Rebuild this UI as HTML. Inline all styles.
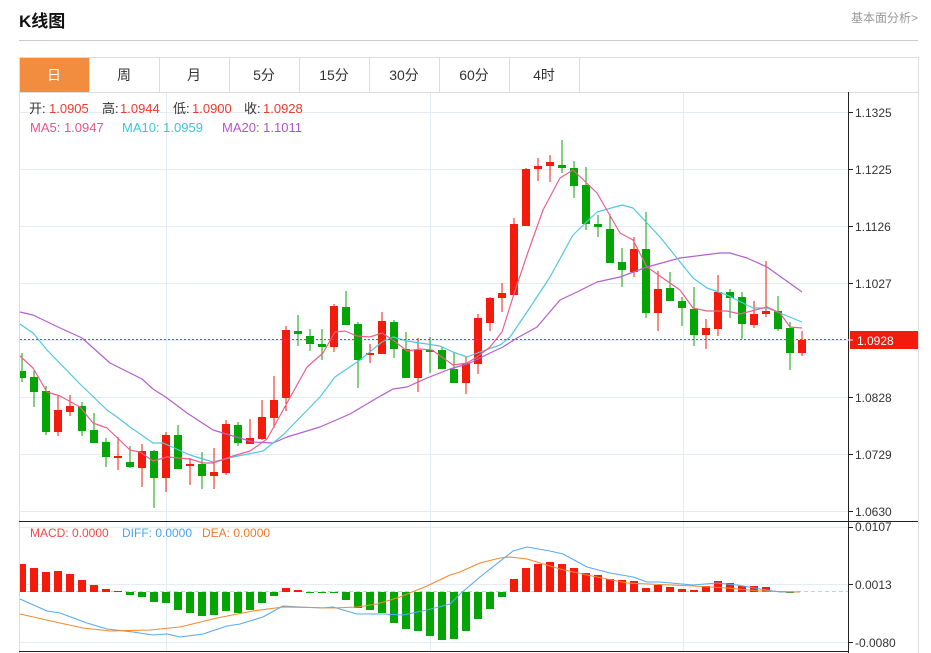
<!DOCTYPE html>
<html><head><meta charset="utf-8"><style>
html,body{margin:0;padding:0;background:#fff;width:931px;height:653px;overflow:hidden}
svg{display:block;font-family:"Liberation Sans","Noto Sans CJK SC",sans-serif}
</style></head><body>
<svg width="931" height="653" viewBox="0 0 931 653" xmlns="http://www.w3.org/2000/svg">
<rect width="931" height="653" fill="#fff"/>
<text x="19" y="27" font-size="17" font-weight="bold" fill="#111">K线图</text>
<text x="918" y="22" font-size="12" fill="#999" text-anchor="end">基本面分析&gt;</text>
<line x1="19" y1="40.5" x2="918" y2="40.5" stroke="#ccc"/>
<!-- tabs -->
<rect x="19.5" y="57.5" width="899" height="35" fill="#fff" stroke="#ddd"/>
<rect x="20" y="58" width="69" height="34" fill="#f28c3e"/>
<g stroke="#ddd"><line x1="89.5" y1="57" x2="89.5" y2="92"/><line x1="159.5" y1="57" x2="159.5" y2="92"/><line x1="229.5" y1="57" x2="229.5" y2="92"/><line x1="299.5" y1="57" x2="299.5" y2="92"/><line x1="369.5" y1="57" x2="369.5" y2="92"/><line x1="439.5" y1="57" x2="439.5" y2="92"/><line x1="509.5" y1="57" x2="509.5" y2="92"/><line x1="579.5" y1="57" x2="579.5" y2="92"/></g>
<g font-size="14" text-anchor="middle" fill="#333">
<text x="54" y="80" fill="#fff">日</text><text x="124" y="80">周</text><text x="194" y="80">月</text><text x="264" y="80">5分</text><text x="334" y="80">15分</text><text x="404" y="80">30分</text><text x="474" y="80">60分</text><text x="544" y="80">4时</text>
</g>
<!-- frame -->
<line x1="19.5" y1="92" x2="19.5" y2="653" stroke="#ddd"/>
<line x1="918.5" y1="92" x2="918.5" y2="653" stroke="#ddd"/>
<!-- grid -->
<g stroke="#e4ebf2">
<line x1="20" y1="112.5" x2="848" y2="112.5"/><line x1="20" y1="169.5" x2="848" y2="169.5"/><line x1="20" y1="226.5" x2="848" y2="226.5"/><line x1="20" y1="283.5" x2="848" y2="283.5"/><line x1="20" y1="340.5" x2="848" y2="340.5"/><line x1="20" y1="397.5" x2="848" y2="397.5"/><line x1="20" y1="454.5" x2="848" y2="454.5"/><line x1="20" y1="511.5" x2="848" y2="511.5"/>
<line x1="20" y1="527.5" x2="848" y2="527.5"/><line x1="20" y1="584.5" x2="848" y2="584.5"/><line x1="20" y1="642.5" x2="848" y2="642.5"/>
<line x1="166.5" y1="93" x2="166.5" y2="651"/><line x1="430.5" y1="93" x2="430.5" y2="651"/><line x1="683.5" y1="93" x2="683.5" y2="651"/>
</g>
<!-- legend -->
<g font-size="13">
<text x="29" y="113" fill="#333">开:</text><text x="49" y="113" fill="#f03a2a">1.0905</text>
<text x="102" y="113" fill="#333">高:</text><text x="120" y="113" fill="#f03a2a">1.0944</text>
<text x="173" y="113" fill="#333">低:</text><text x="192" y="113" fill="#f03a2a">1.0900</text>
<text x="244" y="113" fill="#333">收:</text><text x="263" y="113" fill="#f03a2a">1.0928</text>
<text x="30" y="132" fill="#e8558a">MA5: 1.0947</text>
<text x="122" y="132" fill="#3bc6dc">MA10: 1.0959</text>
<text x="222" y="132" fill="#b057c8">MA20: 1.1011</text>
</g>
<!-- candles -->
<g fill="#06a506">
<rect x="21.5" y="353" width="1" height="29"/><rect x="20" y="371" width="6" height="7"/>
<rect x="33.5" y="371" width="1" height="36"/><rect x="30" y="377" width="8" height="15"/>
<rect x="45.5" y="386" width="1" height="49"/><rect x="42" y="391" width="8" height="41"/>
<rect x="81.5" y="402" width="1" height="34"/><rect x="78" y="406" width="8" height="25"/>
<rect x="93.5" y="413" width="1" height="30"/><rect x="90" y="430" width="8" height="13"/>
<rect x="105.5" y="438" width="1" height="29"/><rect x="102" y="442" width="8" height="15"/>
<rect x="129.5" y="446" width="1" height="22"/><rect x="126" y="462" width="8" height="5"/>
<rect x="153.5" y="450" width="1" height="58"/><rect x="150" y="451" width="8" height="27"/>
<rect x="177.5" y="425" width="1" height="44"/><rect x="174" y="435" width="8" height="34"/>
<rect x="201.5" y="452" width="1" height="37"/><rect x="198" y="464" width="8" height="12"/>
<rect x="237.5" y="422" width="1" height="24"/><rect x="234" y="425" width="8" height="18"/>
<rect x="297.5" y="315" width="1" height="31"/><rect x="294" y="331" width="8" height="3"/>
<rect x="309.5" y="329" width="1" height="22"/><rect x="306" y="336" width="8" height="8"/>
<rect x="321.5" y="329" width="1" height="31"/><rect x="318" y="344" width="8" height="3"/>
<rect x="345.5" y="291" width="1" height="34"/><rect x="342" y="307" width="8" height="18"/>
<rect x="357.5" y="322" width="1" height="66"/><rect x="354" y="324" width="8" height="36"/>
<rect x="393.5" y="320" width="1" height="38"/><rect x="390" y="322" width="8" height="27"/>
<rect x="405.5" y="332" width="1" height="46"/><rect x="402" y="349" width="8" height="29"/>
<rect x="429.5" y="337" width="1" height="36"/><rect x="426" y="350" width="8" height="2"/>
<rect x="441.5" y="347" width="1" height="22"/><rect x="438" y="350" width="8" height="19"/>
<rect x="453.5" y="352" width="1" height="31"/><rect x="450" y="369" width="8" height="14"/>
<rect x="561.5" y="140" width="1" height="33"/><rect x="558" y="165" width="8" height="3"/>
<rect x="573.5" y="161" width="1" height="37"/><rect x="570" y="168" width="8" height="18"/>
<rect x="585.5" y="167" width="1" height="63"/><rect x="582" y="185" width="8" height="39"/>
<rect x="597.5" y="215" width="1" height="22"/><rect x="594" y="224" width="8" height="3"/>
<rect x="609.5" y="214" width="1" height="49"/><rect x="606" y="229" width="8" height="34"/>
<rect x="621.5" y="248" width="1" height="39"/><rect x="618" y="262" width="8" height="8"/>
<rect x="645.5" y="212" width="1" height="106"/><rect x="642" y="249" width="8" height="64"/>
<rect x="669.5" y="272" width="1" height="29"/><rect x="666" y="288" width="8" height="13"/>
<rect x="681.5" y="297" width="1" height="29"/><rect x="678" y="301" width="8" height="7"/>
<rect x="693.5" y="287" width="1" height="59"/><rect x="690" y="309" width="8" height="26"/>
<rect x="729.5" y="289" width="1" height="29"/><rect x="726" y="292" width="8" height="6"/>
<rect x="741.5" y="292" width="1" height="47"/><rect x="738" y="297" width="8" height="27"/>
<rect x="777.5" y="296" width="1" height="35"/><rect x="774" y="311" width="8" height="18"/>
<rect x="789.5" y="322" width="1" height="48"/><rect x="786" y="328" width="8" height="25"/>
</g>
<g fill="#f21b0c">
<rect x="57.5" y="396" width="1" height="40"/><rect x="54" y="410" width="8" height="22"/>
<rect x="69.5" y="395" width="1" height="21"/><rect x="66" y="406" width="8" height="6"/>
<rect x="117.5" y="437" width="1" height="33"/><rect x="114" y="456" width="8" height="2"/>
<rect x="141.5" y="444" width="1" height="43"/><rect x="138" y="451" width="8" height="17"/>
<rect x="165.5" y="432" width="1" height="60"/><rect x="162" y="435" width="8" height="43"/>
<rect x="189.5" y="458" width="1" height="27"/><rect x="186" y="464" width="8" height="2"/>
<rect x="213.5" y="448" width="1" height="41"/><rect x="210" y="472" width="8" height="4"/>
<rect x="225.5" y="420" width="1" height="55"/><rect x="222" y="424" width="8" height="49"/>
<rect x="249.5" y="419" width="1" height="25"/><rect x="246" y="438" width="8" height="6"/>
<rect x="261.5" y="400" width="1" height="40"/><rect x="258" y="417" width="8" height="22"/>
<rect x="273.5" y="376" width="1" height="52"/><rect x="270" y="400" width="8" height="18"/>
<rect x="285.5" y="326" width="1" height="85"/><rect x="282" y="330" width="8" height="68"/>
<rect x="333.5" y="304" width="1" height="48"/><rect x="330" y="306" width="8" height="41"/>
<rect x="369.5" y="344" width="1" height="19"/><rect x="366" y="353" width="8" height="2"/>
<rect x="381.5" y="312" width="1" height="42"/><rect x="378" y="321" width="8" height="33"/>
<rect x="417.5" y="338" width="1" height="54"/><rect x="414" y="350" width="8" height="28"/>
<rect x="465.5" y="356" width="1" height="38"/><rect x="462" y="363" width="8" height="20"/>
<rect x="477.5" y="314" width="1" height="60"/><rect x="474" y="318" width="8" height="46"/>
<rect x="489.5" y="297" width="1" height="34"/><rect x="486" y="298" width="8" height="25"/>
<rect x="501.5" y="283" width="1" height="29"/><rect x="498" y="293" width="8" height="5"/>
<rect x="513.5" y="218" width="1" height="77"/><rect x="510" y="224" width="8" height="71"/>
<rect x="525.5" y="168" width="1" height="58"/><rect x="522" y="169" width="8" height="57"/>
<rect x="537.5" y="158" width="1" height="23"/><rect x="534" y="166" width="8" height="3"/>
<rect x="549.5" y="155" width="1" height="27"/><rect x="546" y="162" width="8" height="4"/>
<rect x="633.5" y="237" width="1" height="40"/><rect x="630" y="249" width="8" height="23"/>
<rect x="657.5" y="271" width="1" height="60"/><rect x="654" y="289" width="8" height="24"/>
<rect x="705.5" y="319" width="1" height="30"/><rect x="702" y="328" width="8" height="7"/>
<rect x="717.5" y="275" width="1" height="61"/><rect x="714" y="292" width="8" height="37"/>
<rect x="753.5" y="301" width="1" height="27"/><rect x="750" y="314" width="8" height="11"/>
<rect x="765.5" y="261" width="1" height="56"/><rect x="762" y="311" width="8" height="3"/>
<rect x="801.5" y="331" width="1" height="25"/><rect x="798" y="340" width="8" height="13"/>
</g>
<!-- MA lines -->
<g fill="none" stroke-width="1.2" stroke-linejoin="round">
<polyline stroke="#b35fce" points="20,312 33,315 58,327 82,338 110,363 142,379 153,389 167,398 187,413 213,430 233,436 253,442 273,443 287,437 320,427 350,414 377,398 393,389 407,387 427,378 450,369 470,363 490,353 503,347 517,338 537,327 560,300 577,292 597,282 620,277 647,267 680,258 720,253 730,253 747,258 767,267 802,292"/>
<polyline stroke="#52c8e0" points="20,324 33,333 47,350 80,384 107,410 117,417 130,427 153,443 163,443 190,455 213,462 233,457 263,451 283,435 320,397 335,377 360,360 382,342 393,337 407,341 420,343 440,346 453,352 467,357 480,352 500,345 510,337 527,312 550,277 573,235 597,212 622,205 633,208 660,237 693,278 707,288 727,295 753,308 767,308 780,313 802,322"/>
<polyline stroke="#ec5f8c" points="20,356 33,368 47,392 60,396 80,407 93,423 107,428 130,450 140,452 153,461 167,457 190,459 203,463 213,463 233,456 250,451 267,439 287,403 307,367 323,353 335,332 345,331 357,336 370,337 382,333 393,340 407,351 420,349 432,350 453,365 467,363 477,357 490,347 502,332 513,297 527,255 543,210 560,178 573,170 597,193 620,233 633,240 647,267 680,290 693,308 707,311 727,311 740,314 767,307 780,313 790,327 802,328"/>
</g>
<line x1="20" y1="339.5" x2="848" y2="339.5" stroke="#e63a30" stroke-dasharray="2 2"/>
<!-- MACD -->
<line x1="20" y1="591.5" x2="848" y2="591.5" stroke="#a8daf0" stroke-dasharray="4 3"/>
<g fill="#f21b0c">
<rect x="20" y="564" width="6" height="28"/><rect x="30" y="568" width="8" height="24"/><rect x="42" y="572" width="8" height="20"/><rect x="54" y="571" width="8" height="21"/><rect x="66" y="574" width="8" height="18"/><rect x="78" y="580" width="8" height="12"/><rect x="90" y="585" width="8" height="7"/><rect x="102" y="589" width="8" height="3"/><rect x="114" y="591" width="8" height="1"/>
<rect x="282" y="588" width="8" height="4"/><rect x="294" y="590" width="8" height="2"/>
<rect x="510" y="579" width="8" height="13"/><rect x="522" y="568" width="8" height="24"/><rect x="534" y="564" width="8" height="28"/><rect x="546" y="562" width="8" height="30"/><rect x="558" y="564" width="8" height="28"/><rect x="570" y="568" width="8" height="24"/><rect x="582" y="573" width="8" height="19"/><rect x="594" y="575" width="8" height="17"/><rect x="606" y="579" width="8" height="13"/><rect x="618" y="580" width="8" height="12"/><rect x="630" y="581" width="8" height="11"/><rect x="642" y="588" width="8" height="4"/><rect x="654" y="585" width="8" height="7"/><rect x="666" y="587" width="8" height="5"/><rect x="678" y="589" width="8" height="3"/><rect x="690" y="590" width="8" height="2"/><rect x="702" y="586" width="8" height="6"/><rect x="714" y="581" width="8" height="11"/><rect x="726" y="583" width="8" height="9"/><rect x="738" y="586" width="8" height="6"/><rect x="750" y="586" width="8" height="6"/><rect x="762" y="587" width="8" height="5"/><rect x="774" y="591" width="8" height="1"/>
</g>
<g fill="#06a506">
<rect x="126" y="592" width="8" height="3"/><rect x="138" y="592" width="8" height="5"/><rect x="150" y="592" width="8" height="10"/><rect x="162" y="592" width="8" height="11"/><rect x="174" y="592" width="8" height="18"/><rect x="186" y="592" width="8" height="21"/><rect x="198" y="592" width="8" height="24"/><rect x="210" y="592" width="8" height="23"/><rect x="222" y="592" width="8" height="19"/><rect x="234" y="592" width="8" height="21"/><rect x="246" y="592" width="8" height="18"/><rect x="258" y="592" width="8" height="11"/><rect x="270" y="592" width="8" height="4"/>
<rect x="306" y="592" width="8" height="1"/><rect x="318" y="592" width="8" height="1"/><rect x="330" y="592" width="8" height="1"/>
<rect x="342" y="592" width="8" height="8"/><rect x="354" y="592" width="8" height="16"/><rect x="366" y="592" width="8" height="18"/><rect x="378" y="592" width="8" height="21"/><rect x="390" y="592" width="8" height="31"/><rect x="402" y="592" width="8" height="37"/><rect x="414" y="592" width="8" height="39"/><rect x="426" y="592" width="8" height="44"/><rect x="438" y="592" width="8" height="48"/><rect x="450" y="592" width="8" height="47"/><rect x="462" y="592" width="8" height="39"/><rect x="474" y="592" width="8" height="27"/><rect x="486" y="592" width="8" height="17"/><rect x="498" y="592" width="8" height="5"/>
<rect x="786" y="592" width="8" height="1"/>
</g>
<g fill="none" stroke-width="1.1" stroke-linejoin="round">
<polyline stroke="#5aaaf0" points="20,599 47,611 60,613 87,623 107,629 133,632 153,635 167,634 180,637 203,634 227,626 240,624 263,617 283,606 300,607 323,608 333,607 357,614 383,614 403,615 427,610 450,604 460,594 480,577 513,551 527,547 550,551 563,554 587,567 610,573 633,577 647,582 660,582 693,585 717,583 737,585 760,589 780,592 800,592"/>
<polyline stroke="#f58a30" points="20,614 60,623 83,628 110,631 150,630 180,627 217,618 253,611 283,607 333,608 357,607 377,604 400,597 427,586 450,575 460,572 480,563 500,558 510,557 527,559 560,569 587,575 627,583 693,586 727,588 760,591 800,592"/>
</g>
<g font-size="12">
<text x="30" y="537" fill="#f04848">MACD: 0.0000</text>
<text x="122" y="537" fill="#4aa3f0">DIFF: 0.0000</text>
<text x="202" y="537" fill="#f07a28">DEA: 0.0000</text>
</g>
<!-- separators and axis -->
<line x1="19" y1="521.5" x2="918" y2="521.5" stroke="#222"/>
<line x1="19" y1="651.5" x2="848" y2="651.5" stroke="#222"/>
<line x1="848.5" y1="92" x2="848.5" y2="653" stroke="#222"/>
<g stroke="#222">
<line x1="848" y1="112.5" x2="853" y2="112.5"/><line x1="848" y1="169.5" x2="853" y2="169.5"/><line x1="848" y1="226.5" x2="853" y2="226.5"/><line x1="848" y1="283.5" x2="853" y2="283.5"/><line x1="848" y1="397.5" x2="853" y2="397.5"/><line x1="848" y1="454.5" x2="853" y2="454.5"/><line x1="848" y1="511.5" x2="853" y2="511.5"/>
<line x1="848" y1="527.5" x2="853" y2="527.5"/><line x1="848" y1="584.5" x2="853" y2="584.5"/><line x1="848" y1="642.5" x2="853" y2="642.5"/>
</g>
<g font-size="12" fill="#333">
<text x="855" y="117">1.1325</text><text x="855" y="174">1.1225</text><text x="855" y="231">1.1126</text><text x="855" y="288">1.1027</text><text x="855" y="402">1.0828</text><text x="855" y="459">1.0729</text><text x="855" y="516">1.0630</text>
<text x="855" y="531">0.0107</text><text x="855" y="589">0.0013</text><text x="855" y="647">-0.0080</text>
</g>
<rect x="850" y="331" width="68" height="18" fill="#f21b0c"/>
<line x1="848" y1="340" x2="853" y2="340" stroke="#fff"/>
<text x="857" y="345" font-size="12" fill="#fff">1.0928</text>
</svg>
</body></html>
